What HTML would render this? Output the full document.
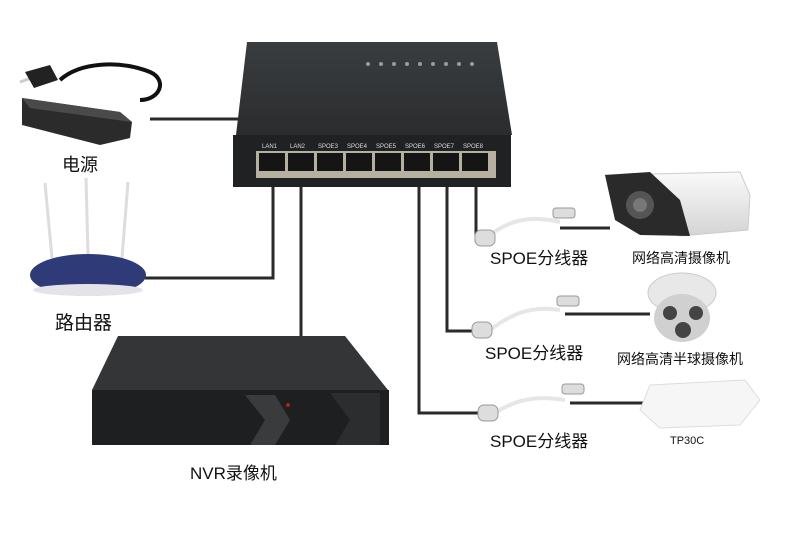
<!DOCTYPE html>
<html><head><meta charset="utf-8"><style>
body{margin:0;background:#fff;}
svg{display:block}
.t{font-family:"Liberation Sans","Noto Sans CJK SC",sans-serif;fill:#111}
.p{font-family:"Liberation Sans",sans-serif;fill:#ddd;font-size:6px}
</style></head><body>
<svg width="800" height="538" viewBox="0 0 800 538" xmlns="http://www.w3.org/2000/svg">
<defs>
<linearGradient id="sw" x1="0" y1="0" x2="0" y2="1"><stop offset="0" stop-color="#3a3d3f"/><stop offset="1" stop-color="#2a2c2e"/></linearGradient>
<linearGradient id="cam" x1="0" y1="0" x2="0" y2="1"><stop offset="0" stop-color="#fafafa"/><stop offset="1" stop-color="#d4d4d4"/></linearGradient>
</defs>
<g stroke="#2a2a2a" stroke-width="3" fill="none">
<path d="M150 119 H242"/>
<path d="M273 187 V278 H145"/>
<path d="M301 187 V338"/>
<path d="M419 187 V413 H480"/>
<path d="M447 187 V331 H476"/>
<path d="M476 187 V240 H482"/>
<path d="M560 228 H610"/>
<path d="M565 314 H650"/>
<path d="M570 403 H645"/>
</g>
<polygon points="247,42 497,42 512,135 236,135" fill="url(#sw)"/>
<rect x="233" y="135" width="278" height="52" fill="#1f2123"/>
<g fill="#9a9a9a">
<circle cx="368" cy="64" r="2"/><circle cx="381" cy="64" r="2"/><circle cx="394" cy="64" r="2"/><circle cx="407" cy="64" r="2"/><circle cx="420" cy="64" r="2"/><circle cx="433" cy="64" r="2"/><circle cx="446" cy="64" r="2"/><circle cx="459" cy="64" r="2"/><circle cx="472" cy="64" r="2"/>
</g>
<text class="p" x="262" y="148">LAN1</text><text class="p" x="290" y="148">LAN2</text><text class="p" x="318" y="148">SPOE3</text><text class="p" x="347" y="148">SPOE4</text><text class="p" x="376" y="148">SPOE5</text><text class="p" x="405" y="148">SPOE6</text><text class="p" x="434" y="148">SPOE7</text><text class="p" x="463" y="148">SPOE8</text>
<rect x="256" y="151" width="240" height="27" fill="#b5b0a0"/>
<g fill="#151515">
<rect x="259" y="153" width="26" height="18"/><rect x="288" y="153" width="26" height="18"/><rect x="317" y="153" width="26" height="18"/><rect x="346" y="153" width="26" height="18"/><rect x="375" y="153" width="26" height="18"/><rect x="404" y="153" width="26" height="18"/><rect x="433" y="153" width="26" height="18"/><rect x="462" y="153" width="26" height="18"/>
</g>
<!-- power adapter -->
<path d="M60 80 C80 62 120 60 150 72 C168 80 160 100 140 100" stroke="#111" stroke-width="4" fill="none"/>
<path d="M40 75 L20 82" stroke="#ccc" stroke-width="3"/>
<polygon points="25,72 50,65 58,80 34,88" fill="#222"/>
<polygon points="22,98 120,112 132,122 130,138 100,145 22,125" fill="#2b2b2b"/>
<polygon points="22,98 120,112 132,122 30,108" fill="#4a4a4a"/>
<text class="t" x="62" y="171" font-size="18">电源</text>
<g stroke="#ddd" stroke-width="3"><line x1="45" y1="183" x2="52" y2="258"/><line x1="86" y1="178" x2="88" y2="255"/><line x1="128" y1="182" x2="122" y2="258"/></g>
<ellipse cx="88" cy="275" rx="58" ry="21" fill="#2f3a78"/>
<ellipse cx="88" cy="290" rx="55" ry="6" fill="#e4e4e8"/>
<text class="t" x="55" y="329" font-size="19">路由器</text>
<polygon points="118,336 345,336 388,390 92,390" fill="#333537"/>
<rect x="92" y="390" width="297" height="55" fill="#1e1f20"/>
<path d="M245 395 L275 395 L290 420 L275 445 L250 445 L265 420 Z" fill="#3a3b3c"/>
<path d="M330 393 L380 393 L380 445 L335 445 L350 420 Z" fill="#2c2d2e"/>
<circle cx="288" cy="405" r="2" fill="#a22"/>
<text class="t" x="190" y="479" font-size="17">NVR录像机</text>
<g fill="none" stroke="#e6e6e6" stroke-width="4">
<path d="M490 235 C510 220 530 215 560 222"/>
<path d="M490 330 C510 315 530 305 560 310"/>
<path d="M495 413 C515 400 535 395 565 400"/>
</g>
<g fill="#ddd" stroke="#999">
<rect x="475" y="230" width="20" height="16" rx="6"/><rect x="472" y="322" width="20" height="16" rx="6"/><rect x="478" y="405" width="20" height="16" rx="6"/>
<rect x="553" y="208" width="22" height="10" rx="3"/><rect x="557" y="296" width="22" height="10" rx="3"/><rect x="562" y="384" width="22" height="10" rx="3"/>
</g>
<text class="t" x="490" y="264" font-size="17">SPOE分线器</text>
<text class="t" x="485" y="359" font-size="17">SPOE分线器</text>
<text class="t" x="490" y="447" font-size="17">SPOE分线器</text>
<polygon points="605,175 740,172 750,195 748,230 680,236 640,222" fill="url(#cam)" stroke="#ccc"/>
<polygon points="605,175 650,172 680,200 690,236 640,235 615,220" fill="#2a2a2a"/>
<circle cx="640" cy="205" r="14" fill="#555"/><circle cx="640" cy="205" r="7" fill="#777"/>
<text class="t" x="632" y="263" font-size="14">网络高清摄像机</text>
<ellipse cx="682" cy="293" rx="34" ry="20" fill="#e8e8e8" stroke="#ccc"/>
<ellipse cx="682" cy="318" rx="28" ry="24" fill="#d0d0d0"/>
<circle cx="670" cy="313" r="7" fill="#444"/><circle cx="696" cy="313" r="7" fill="#444"/><circle cx="683" cy="330" r="8" fill="#444"/>
<text class="t" x="617" y="364" font-size="14">网络高清半球摄像机</text>
<polygon points="650,385 745,380 760,400 740,425 660,428 640,410" fill="#f6f6f6" stroke="#ddd"/>
<text class="t" x="670" y="444" font-size="11">TP30C</text>
</svg>
</body></html>
